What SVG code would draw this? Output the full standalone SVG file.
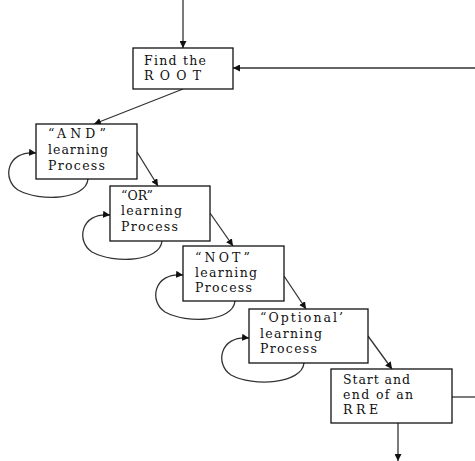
<svg xmlns="http://www.w3.org/2000/svg" width="475" height="461" viewBox="0 0 475 461">
<style>
.box{fill:#fff;stroke:#111;stroke-width:1.3}
.ln{fill:none;stroke:#333;stroke-width:1.3}
.t{font-family:"DejaVu Serif","Liberation Serif",serif;font-size:12.5px;fill:#111}
</style>
<defs>
<marker id="ah" viewBox="0 0 10 10" refX="10" refY="5" markerWidth="7" markerHeight="7" orient="auto" markerUnits="userSpaceOnUse">
<path d="M0,0 L10,5 L0,10 z" fill="#111"/>
</marker>
</defs>
<rect width="475" height="461" fill="#fff"/>
<g id="connectors">
<line class="ln" x1="183" y1="0" x2="183" y2="48" marker-end="url(#ah)"/>
<line class="ln" x1="475" y1="68" x2="233" y2="68" marker-end="url(#ah)"/>
<line class="ln" x1="183" y1="89" x2="94" y2="124" marker-end="url(#ah)"/>
<line class="ln" x1="137" y1="152" x2="158" y2="186" marker-end="url(#ah)"/>
<line class="ln" x1="210" y1="213" x2="233" y2="246" marker-end="url(#ah)"/>
<line class="ln" x1="284" y1="276" x2="306" y2="309" marker-end="url(#ah)"/>
<line class="ln" x1="368" y1="336" x2="392" y2="369" marker-end="url(#ah)"/>
<line class="ln" x1="452" y1="397" x2="475" y2="397"/>
<line class="ln" x1="398" y1="423" x2="398" y2="461" marker-end="url(#ah)"/>
<path class="ln" d="M88,179 C86,200 40,202 18,190 C2,180 6,150 36,153" marker-end="url(#ah)"/>
<path class="ln" d="M162,241 C160,262 114,264 92,252 C76,242 80,212 110,215" marker-end="url(#ah)"/>
<path class="ln" d="M235,301 C233,322 187,324 165,312 C149,302 153,272 183,275" marker-end="url(#ah)"/>
<path class="ln" d="M304,363 C302,384 253,387 231,375 C215,365 219,335 249,338" marker-end="url(#ah)"/>
</g>
<g id="root">
<rect class="box" x="133" y="48" width="100" height="41"/>
<text class="t" x="144" y="65" textLength="62" lengthAdjust="spacing">Find the</text>
<text class="t" x="144" y="80" textLength="57" lengthAdjust="spacing">ROOT</text>
</g>
<g id="and">
<rect class="box" x="36" y="124" width="101" height="55"/>
<text class="t" x="48" y="138" textLength="58" lengthAdjust="spacing">“AND”</text>
<text class="t" x="48" y="154" textLength="60" lengthAdjust="spacing">learning</text>
<text class="t" x="48" y="170" textLength="57" lengthAdjust="spacing">Process</text>
</g>
<g id="or">
<rect class="box" x="110" y="186" width="100" height="55"/>
<text class="t" x="121" y="200" textLength="32" lengthAdjust="spacing">“OR”</text>
<text class="t" x="121" y="215" textLength="61" lengthAdjust="spacing">learning</text>
<text class="t" x="121" y="231" textLength="57" lengthAdjust="spacing">Process</text>
</g>
<g id="not">
<rect class="box" x="183" y="246" width="101" height="55"/>
<text class="t" x="195" y="262" textLength="55" lengthAdjust="spacing">“NOT”</text>
<text class="t" x="195" y="277" textLength="62" lengthAdjust="spacing">learning</text>
<text class="t" x="195" y="292" textLength="57" lengthAdjust="spacing">Process</text>
</g>
<g id="optional">
<rect class="box" x="249" y="309" width="119" height="54"/>
<text class="t" x="260" y="322" textLength="83" lengthAdjust="spacing">“Optional’</text>
<text class="t" x="260" y="338" textLength="62" lengthAdjust="spacing">learning</text>
<text class="t" x="260" y="353" textLength="57" lengthAdjust="spacing">Process</text>
</g>
<g id="rre">
<rect class="box" x="331" y="369" width="121" height="54"/>
<text class="t" x="343" y="384" textLength="67" lengthAdjust="spacing">Start and</text>
<text class="t" x="343" y="399" textLength="70" lengthAdjust="spacing">end of an</text>
<text class="t" x="343" y="414" textLength="35" lengthAdjust="spacing">RRE</text>
</g>
</svg>
